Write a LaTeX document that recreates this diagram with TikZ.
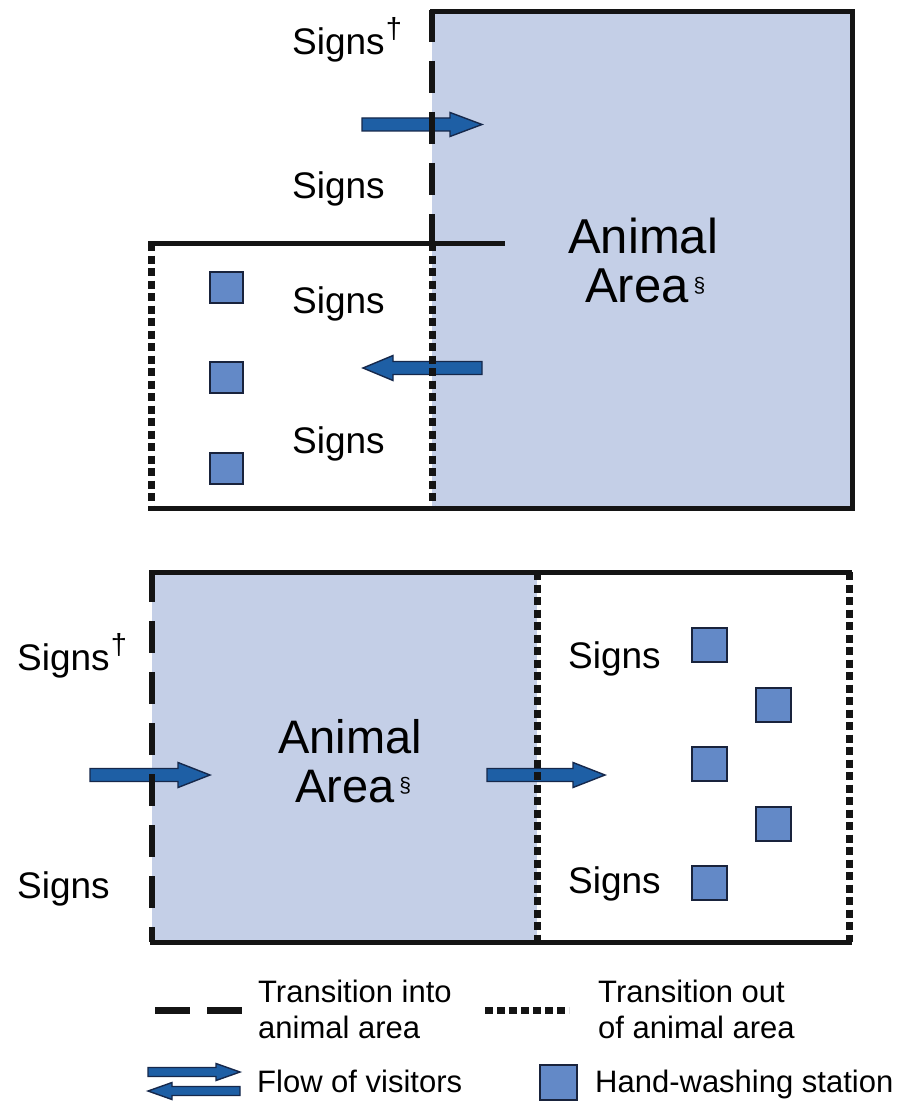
\documentclass[tikz,border=0pt]{standalone}
\usepackage{fontspec}
\setmainfont{Liberation Sans}
\definecolor{areablue}{RGB}{196,207,231}
\definecolor{stationblue}{RGB}{99,137,199}
\definecolor{stationedge}{RGB}{25,35,60}
\definecolor{flowblue}{RGB}{30,95,165}
\definecolor{flowedge}{RGB}{22,40,75}
\definecolor{wallblack}{RGB}{20,20,20}

% visitor flow arrow: tail x, tip x, y, half shaft, half head, head length (signed)
\newcommand\visitorflow[6]{%
  \draw[flow] (#1,{#3-#4}) -- ({#2-(#6)},{#3-#4}) -- ({#2-(#6)},{#3-#5}) -- (#2,#3)
    -- ({#2-(#6)},{#3+#5}) -- ({#2-(#6)},{#3+#4}) -- (#1,{#3+#4}) -- cycle;}
\newcommand\dagmark{\hspace{1pt}\raisebox{16pt}{\fontsize{29}{29}\selectfont †}}
\newcommand\secmark{\hspace{5pt}\raisebox{10pt}{\fontsize{21}{21}\selectfont §}}

\begin{document}
\begin{tikzpicture}[x=1pt,y=-1pt,
  wall/.style={draw=wallblack,line width=5pt,line join=miter},
  entry/.style={draw=wallblack,line width=6.5pt,dash pattern=on 32pt off 19pt},
  exitline/.style={draw=wallblack,line width=7pt,dash pattern=on 8pt off 4.5pt},
  flow/.style={fill=flowblue,draw=flowedge,line width=1.4pt,line join=miter},
  station/.style={draw=stationedge,line width=2pt,fill=stationblue,inner sep=0pt,
    minimum width=33pt,minimum height=31pt},
  bigstation/.style={station,minimum width=35pt,minimum height=34pt},
  sign/.style={anchor=base west,inner sep=0pt,font=\fontsize{37}{37}\selectfont},
  areatext/.style={anchor=base west,inner sep=0pt,font=\fontsize{49}{49}\selectfont},
  legendtext/.style={anchor=base west,inner sep=0pt,font=\fontsize{31}{31}\selectfont}]
\useasboundingbox (0,0) rectangle (904,1102);

% ---------- upper layout ----------
\fill[areablue] (432,12) rectangle (852,508);
\visitorflow{362}{482}{124.5}{6.5}{12}{32}
\visitorflow{482}{363}{368}{6.5}{12.5}{-30}
\draw[wall] (430,12) -- (852,12) -- (852,508) -- (148,508);
\draw[wall] (148,243) -- (505,243);
\draw[entry] (432,10) -- (432,243);
\draw[exitline] (432,243) -- (432,508);
\draw[exitline] (151,243) -- (151,508);

\node[station] (s1) at (226,287) {};
\node[station] (s2) at (226,377) {};
\node[station] (s3) at (226,468) {};

\node[sign] (ua) at (292,55) {Signs\dagmark};
\node[sign] (ub) at (292,198) {Signs};
\node[sign] (uc) at (292,313) {Signs};
\node[sign] (ud) at (292,453) {Signs};
\node[areatext] (uarea1) at (568,253) {Animal};
\node[areatext] (uarea2) at (585,302) {Area\secmark};

% ---------- lower layout ----------
\fill[areablue] (152,572) rectangle (537,942);
\visitorflow{90}{210}{775}{6.5}{12.5}{32}
\visitorflow{487}{605}{775}{6.5}{12.5}{32}
\draw[wall] (150,572) -- (852,572);
\draw[wall] (150,942) -- (852,942);
\draw[entry] (152,570) -- (152,942);
\draw[exitline] (537,572) -- (537,942);
\draw[exitline] (849,572) -- (849,942);

\node[bigstation] (t1) at (709,645) {};
\node[bigstation] (t2) at (773,705) {};
\node[bigstation] (t3) at (709,764) {};
\node[bigstation] (t4) at (773,824) {};
\node[bigstation] (t5) at (709,883) {};

\node[sign] (la) at (17,670) {Signs\dagmark};
\node[sign] (lb) at (17,898) {Signs};
\node[sign] (lc) at (568,668) {Signs};
\node[sign] (ld) at (568,893) {Signs};
\node[areatext,font=\fontsize{47}{47}\selectfont] (larea1) at (278,753) {Animal};
\node[areatext,font=\fontsize{47}{47}\selectfont] (larea2) at (295,802) {Area\secmark};

% ---------- legend ----------
\draw[draw=wallblack,line width=7pt,dash pattern=on 35pt off 17pt] (155,1010) -- (242,1010);
\node[legendtext] (k1a) at (258,1002) {Transition into};
\node[legendtext] (k1b) at (258,1038) {animal area};
\draw[exitline,dash pattern=on 8pt off 4pt] (485,1010) -- (569,1010);
\node[legendtext] (k2a) at (598,1002) {Transition out};
\node[legendtext] (k2b) at (598,1038) {of animal area};
\visitorflow{148}{240}{1072}{4.5}{8.5}{24}
\visitorflow{240}{148}{1091}{4.5}{8.5}{-24}
\node[legendtext] (k3) at (257,1092) {Flow of visitors};
\node[station,minimum width=37pt,minimum height=35pt] (k4sq) at (558,1082) {};
\node[legendtext] (k4) at (595,1092) {Hand-washing station};
\end{tikzpicture}
\end{document}
